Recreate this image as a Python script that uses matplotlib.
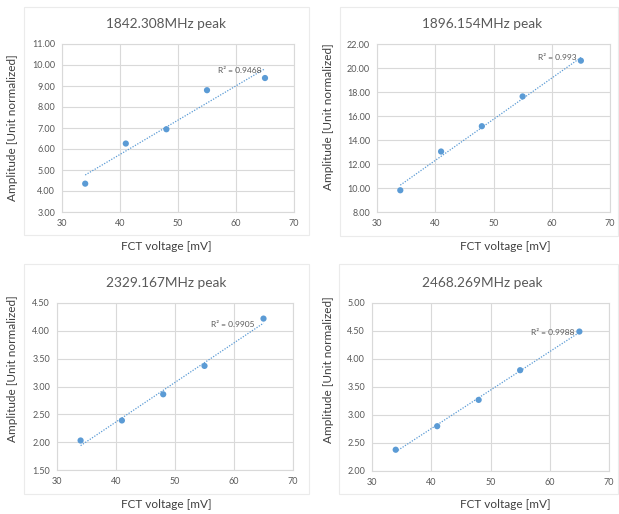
import numpy as np
import matplotlib
matplotlib.use("Agg")
import matplotlib.pyplot as plt
from matplotlib.patches import Rectangle

plt.rcParams['font.family'] = ['Lato', 'DejaVu Sans']

fct_voltage = [34, 41, 48, 55, 65]
amp_1842 = [4.35, 6.26, 6.94, 8.80, 9.38]
amp_1896 = [9.81, 13.04, 15.15, 17.63, 20.61]
amp_2329 = [2.03, 2.39, 2.86, 3.37, 4.22]
amp_2468 = [2.38, 2.80, 3.27, 3.80, 4.49]

titles = ["1842.308MHz peak", "1896.154MHz peak", "2329.167MHz peak", "2468.269MHz peak"]
r2_labels = ["R² = 0.9468", "R² = 0.993", "R² = 0.9905", "R² = 0.9988"]
y_ranges = [(3, 11, 1), (8, 22, 2), (1.5, 4.5, 0.5), (2, 5, 0.5)]
x_ticks = [30, 40, 50, 60, 70]

W, H = 619, 514
fig = plt.figure(figsize=(W / 100, H / 100), dpi=100)
fig.patch.set_facecolor('white')

def fx(px):
    return px / W

def fy(py):
    return 1 - py / H

# axes boxes in pixels: (left, top, right, bottom)
boxes = [(62, 44, 294, 212), (377, 44, 610, 212), (57, 303, 293, 470), (372, 303, 609, 471)]
borders = [(24, 7, 309, 235), (340, 7, 618, 236), (24, 264, 309, 494), (339, 264, 618, 494)]
title_pos = [(166, 24), (482, 24), (166, 283), (482, 283)]
xlabel_pos = [(166, 246), (505, 246), (166, 505), (505, 505)]
ylabel_pos = [(13, 128), (329, 117), (13, 369), (328, 370)]
r2_pos = [(60.7, 9.76), (60.9, 20.9), (59.8, 4.12), (60.5, 4.48)]

series = [amp_1842, amp_1896, amp_2329, amp_2468]
blue = '#5B9BD5'
grid_c = '#D9D9D9'
text_c = '#595959'

for i in range(4):
    l, t, r, b = borders[i]
    fig.patches.append(Rectangle((fx(l), fy(b)), fx(r - l), (b - t) / H,
                                 transform=fig.transFigure, fill=False,
                                 edgecolor='#EBEBEB', linewidth=0.8))
    l, t, r, b = boxes[i]
    ax = fig.add_axes([fx(l), fy(b), fx(r - l), (b - t) / H])
    y0, y1, st = y_ranges[i]
    ax.set_xlim(30, 70)
    ax.set_ylim(y0, y1)
    ax.set_xticks(x_ticks)
    yt = np.arange(y0, y1 + st / 2, st)
    ax.set_yticks(yt)
    ax.set_yticklabels([f"{v:.2f}" for v in yt])
    ax.grid(True, color=grid_c, linewidth=0.8)
    ax.set_axisbelow(True)
    for s in ax.spines.values():
        s.set_color(grid_c)
        s.set_linewidth(0.8)
    ax.tick_params(length=0, labelsize=6.5, colors=text_c, pad=5)
    x = np.array(fct_voltage, dtype=float)
    y = np.array(series[i])
    k, c = np.polyfit(x, y, 1)
    xl = np.array([x.min(), x.max()])
    ax.plot(xl, k * xl + c, linestyle=(0, (1, 1.2)), color=blue, linewidth=0.9)
    ax.scatter(x, y, s=20, color=blue, zorder=3, edgecolors='none')
    ax.text(r2_pos[i][0], r2_pos[i][1], r2_labels[i], fontsize=6, color=text_c,
            ha='center', va='center')
    fig.text(fx(title_pos[i][0]), fy(title_pos[i][1]), titles[i], fontsize=9.8,
             color=text_c, ha='center', va='center')
    fig.text(fx(xlabel_pos[i][0]), fy(xlabel_pos[i][1]), "FCT voltage [mV]", fontsize=8.5,
             color='#404040', ha='center', va='center')
    fig.text(fx(ylabel_pos[i][0]), fy(ylabel_pos[i][1]), "Amplitude [Unit normalized]",
             fontsize=8.5, color='#404040', ha='center', va='center', rotation=90)

fig.savefig("out.png", dpi=100, facecolor='white')
